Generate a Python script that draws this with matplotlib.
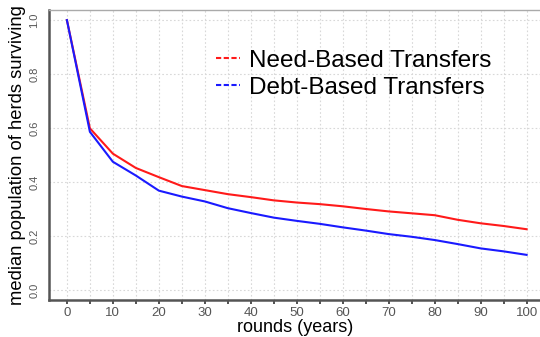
import numpy as np
import matplotlib.pyplot as plt
from matplotlib.ticker import MultipleLocator

plt.rcParams['font.family'] = ['Liberation Sans', 'DejaVu Sans']

rounds = [0, 5, 10, 15, 20, 25, 30, 35, 40, 45, 50, 55, 60, 65, 70, 75, 80, 85, 90, 95, 100]
need_based = [1.0, 0.599, 0.505, 0.452, 0.418, 0.385, 0.370, 0.355, 0.344, 0.332, 0.324, 0.318, 0.310, 0.300, 0.291, 0.284, 0.277, 0.260, 0.247, 0.237, 0.225]
debt_based = [1.0, 0.586, 0.475, 0.424, 0.368, 0.346, 0.328, 0.303, 0.285, 0.268, 0.256, 0.245, 0.232, 0.220, 0.207, 0.197, 0.185, 0.170, 0.154, 0.143, 0.130]
labels = ['Need-Based Transfers', 'Debt-Based Transfers']

fig = plt.figure(figsize=(5.4, 3.37), dpi=100)
ax = fig.add_axes([0.0907, 0.11, 0.91, 0.86])

ax.plot(rounds, need_based, color='#ff1a1a', lw=1.5, label=labels[0])
ax.plot(rounds, debt_based, color='#1a1aff', lw=1.5, label=labels[1])

ax.set_xlim(-3.9, 103)
ax.set_ylim(-0.037, 1.037)

ax.xaxis.set_major_locator(MultipleLocator(10))
ax.xaxis.set_minor_locator(MultipleLocator(5))
ax.set_yticks(np.arange(0, 1.01, 0.2))
ax.set_yticklabels(['%.1f' % v for v in np.arange(0, 1.01, 0.2)], rotation=90, va='center')

ax.grid(which='both', axis='x', color='#d8d8d8', ls=(0, (1.5, 2)), lw=0.8)
ax.grid(which='major', axis='y', color='#d8d8d8', ls=(0, (1.5, 2)), lw=0.8)

ax.tick_params(axis='x', which='both', direction='out', length=3, width=1.2, color='#333333',
               labelsize=9.5, labelcolor='#555555', pad=2)
ax.tick_params(axis='y', length=0, labelsize=8, labelcolor='#555555', pad=7)

for side in ['left', 'bottom']:
    ax.spines[side].set_color('#555555')
    ax.spines[side].set_linewidth(1.8)
ax.spines['top'].set_color('#aaaaaa')
ax.spines['top'].set_linewidth(1.0)
ax.spines['right'].set_visible(False)

ax.set_xlabel('rounds (years)', fontsize=13, labelpad=0)
ax.set_ylabel('median population of herds surviving', fontsize=13.2, labelpad=2)

leg = ax.legend(loc='upper left', bbox_to_anchor=(0.315, 0.905), frameon=False,
                fontsize=17.5, handlelength=1.0, handletextpad=0.35, labelspacing=0.2,
                borderpad=0)
for line in leg.get_lines():
    line.set_linestyle((0, (2.5, 1.2)))
    line.set_linewidth(1.5)

fig.savefig('out.png', dpi=100)
